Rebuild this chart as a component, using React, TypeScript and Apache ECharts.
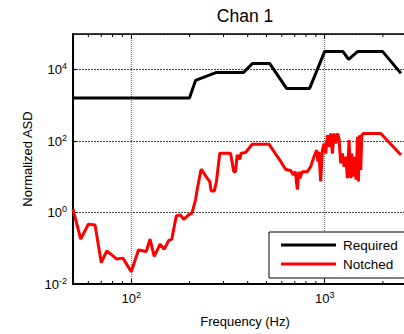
import React, { useEffect, useRef } from "react";
import * as echarts from "echarts";

// Required profile
const reqFreq = [50, 200, 215, 276, 381, 423, 519, 635, 836, 1000, 1240, 1330, 1483, 1990, 2478];
const reqVal = [1620, 1620, 5000, 8400, 8400, 15000, 15000, 3000, 3000, 32600, 32600, 19400, 32600, 32600, 7900];

// Notched profile
const notFreq = [
  50, 54.8, 60, 65, 70, 74.8, 84.3, 90.6, 100, 109, 119.6, 125, 131.5, 141, 148, 156, 162,
  171, 179.5, 186.7, 198, 206, 215, 219, 229.7, 246.8, 254.6, 258.8, 269, 275.6, 287, 326,
  339, 346, 353, 364, 370, 390, 422, 515, 547, 592, 629, 667, 689, 705, 722, 736, 745, 766,
  814, 846, 880, 909, 923, 934, 953, 973, 992, 1012, 1033, 1053, 1074, 1096, 1117, 1140,
  1164, 1186, 1210, 1235, 1259, 1285, 1311, 1336, 1364, 1380, 1408, 1430, 1453, 1477, 1495,
  1513, 1536, 1555, 1586, 1950, 2478,
];
const notVal = [
  1.25, 0.18, 0.47, 0.45, 0.04, 0.085, 0.05, 0.053, 0.022, 0.09, 0.081, 0.18, 0.059, 0.13,
  0.094, 0.164, 0.18, 0.81, 0.86, 0.65, 0.86, 0.96, 2.27, 4.3, 16.4, 9.2, 7.4, 4.05, 4.05,
  7.4, 46, 46, 14, 14, 41, 31, 46, 48, 82, 82, 51, 27, 16, 15, 11.4, 14, 4.4, 14, 9.2, 14,
  14, 19.3, 36.6, 56, 26.6, 50, 7.4, 56, 86, 45, 147, 69.5, 164, 45, 164, 86, 164, 119, 24,
  45, 19.3, 36.6, 9.2, 107, 9.2, 45, 10.2, 36.6, 8.3, 132, 7.4, 147, 15.6, 147, 164, 164, 41,
];

const minorTicks = [60, 70, 80, 90, 200, 300, 400, 500, 600, 700, 800, 900, 2000];
const seriesNames = ["Required", "Notched"];

const FONT = "Liberation Sans, Arial, Helvetica, sans-serif";

const X_MIN = 50;
const X_MAX = 3000;
const Y_MIN = 0.01;
const Y_MAX = 100000;

function powLabel(v: number): string {
  const e = Math.log10(v);
  if (Math.abs(e - Math.round(e)) > 1e-6) return "";
  return `{b|10}{s|${Math.round(e)}}`;
}

const labelRich = {
  b: { fontSize: 13, lineHeight: 16, fontFamily: FONT, color: "#000" },
  s: { fontSize: 9, lineHeight: 6, verticalAlign: "top", fontFamily: FONT, color: "#000" },
};

export default function App() {
  const ref = useRef<HTMLDivElement>(null);

  useEffect(() => {
    if (!ref.current) return;
    const chart = echarts.init(ref.current, undefined, { renderer: "svg" });
    const reqData = reqFreq.map((f, i) => [f, reqVal[i]]);
    const notData = notFreq.map((f, i) => [f, notVal[i]]);

    chart.setOption({
      animation: false,
      backgroundColor: "#fff",
      textStyle: { fontFamily: FONT },
      grid: { left: 73, top: 34, width: 344, height: 250 },
      graphic: [
        {
          type: "text",
          x: 245,
          y: 7,
          style: {
            text: "Chan 1",
            fontSize: 17.5,
            fontFamily: FONT,
            fill: "#000",
            textAlign: "center",
          },
        },
      ],
      legend: {
        data: seriesNames.map((n) => ({ name: n, icon: "rect" })),
        orient: "vertical",
        left: 269,
        top: 232,
        padding: [5, 16, 6, 12],
        itemWidth: 55,
        itemHeight: 3,
        itemGap: 3,
        borderColor: "#000",
        borderWidth: 1,
        borderRadius: 0,
        backgroundColor: "#fff",
        textStyle: {
          fontSize: 13.5,
          lineHeight: 16,
          fontFamily: FONT,
          color: "#000",
          padding: [0, 0, 0, 2],
        },
      },
      xAxis: [
        {
          type: "log",
          logBase: 10,
          min: X_MIN,
          max: X_MAX,
          position: "bottom",
          name: "Frequency (Hz)",
          nameLocation: "middle",
          nameGap: 31,
          nameTextStyle: { fontSize: 13, fontFamily: FONT, color: "#000" },
          axisLine: { show: true, lineStyle: { color: "#000", width: 2 } },
          axisTick: { show: true, inside: true, length: 5, lineStyle: { color: "#000", width: 1 } },
          axisLabel: {
            showMinLabel: false,
            showMaxLabel: false,
            margin: 6,
            formatter: powLabel,
            rich: labelRich,
          },
          splitLine: { show: true, lineStyle: { color: "#777", width: 1.3, type: [1, 1] } },
        },
        {
          type: "log",
          logBase: 10,
          min: X_MIN,
          max: X_MAX,
          position: "top",
          axisLine: { show: true, lineStyle: { color: "#000", width: 1.5 } },
          axisTick: { show: true, inside: true, length: 5, lineStyle: { color: "#000", width: 1 } },
          axisLabel: { show: false },
          splitLine: { show: false },
        },
      ],
      yAxis: [
        {
          type: "log",
          logBase: 10,
          min: Y_MIN,
          max: Y_MAX,
          interval: 2,
          position: "left",
          name: "Normalized ASD",
          nameLocation: "middle",
          nameGap: 39,
          nameTextStyle: { fontSize: 13, fontFamily: FONT, color: "#000" },
          axisLine: { show: true, lineStyle: { color: "#000", width: 2 } },
          axisTick: { show: true, inside: true, length: 4, lineStyle: { color: "#000", width: 1 } },
          axisLabel: {
            showMaxLabel: false,
            margin: 6,
            formatter: powLabel,
            rich: labelRich,
          },
          splitLine: { show: true, lineStyle: { color: "#444", width: 1, type: [2, 1] } },
        },
        {
          type: "log",
          logBase: 10,
          min: Y_MIN,
          max: Y_MAX,
          interval: 2,
          position: "right",
          axisLine: { show: true, lineStyle: { color: "#000", width: 1.5 } },
          axisTick: { show: false },
          axisLabel: { show: false },
          splitLine: { show: false },
        },
      ],
      series: [
        {
          name: "Required",
          type: "line",
          data: reqData,
          showSymbol: false,
          symbol: "none",
          lineStyle: { color: "#000", width: 3 },
          itemStyle: { color: "#000" },
          z: 3,
        },
        {
          name: "Notched",
          type: "line",
          data: notData,
          showSymbol: false,
          symbol: "none",
          lineStyle: { color: "#ff0000", width: 3 },
          itemStyle: { color: "#ff0000" },
          z: 4,
        },
        {
          type: "custom",
          silent: true,
          clip: false,
          z: 5,
          data: minorTicks.map((f) => [f, 1]),
          renderItem: (_params: any, api: any) => {
            const f = api.value(0);
            const pb = api.coord([f, Y_MIN]);
            const pt = api.coord([f, Y_MAX]);
            return {
              type: "group",
              children: [
                {
                  type: "line",
                  shape: { x1: pb[0], y1: pb[1], x2: pb[0], y2: pb[1] - 3 },
                  style: { stroke: "#000", lineWidth: 1 },
                },
                {
                  type: "line",
                  shape: { x1: pt[0], y1: pt[1], x2: pt[0], y2: pt[1] + 3 },
                  style: { stroke: "#000", lineWidth: 1 },
                },
              ],
            };
          },
        },
      ],
    });

    return () => chart.dispose();
  }, []);

  return (
    <div
      style={{
        position: "fixed",
        left: 0,
        top: 0,
        width: 404,
        height: 334,
        overflow: "hidden",
        background: "#fff",
      }}
    >
      <div ref={ref} style={{ width: 430, height: 334 }} />
    </div>
  );
}
